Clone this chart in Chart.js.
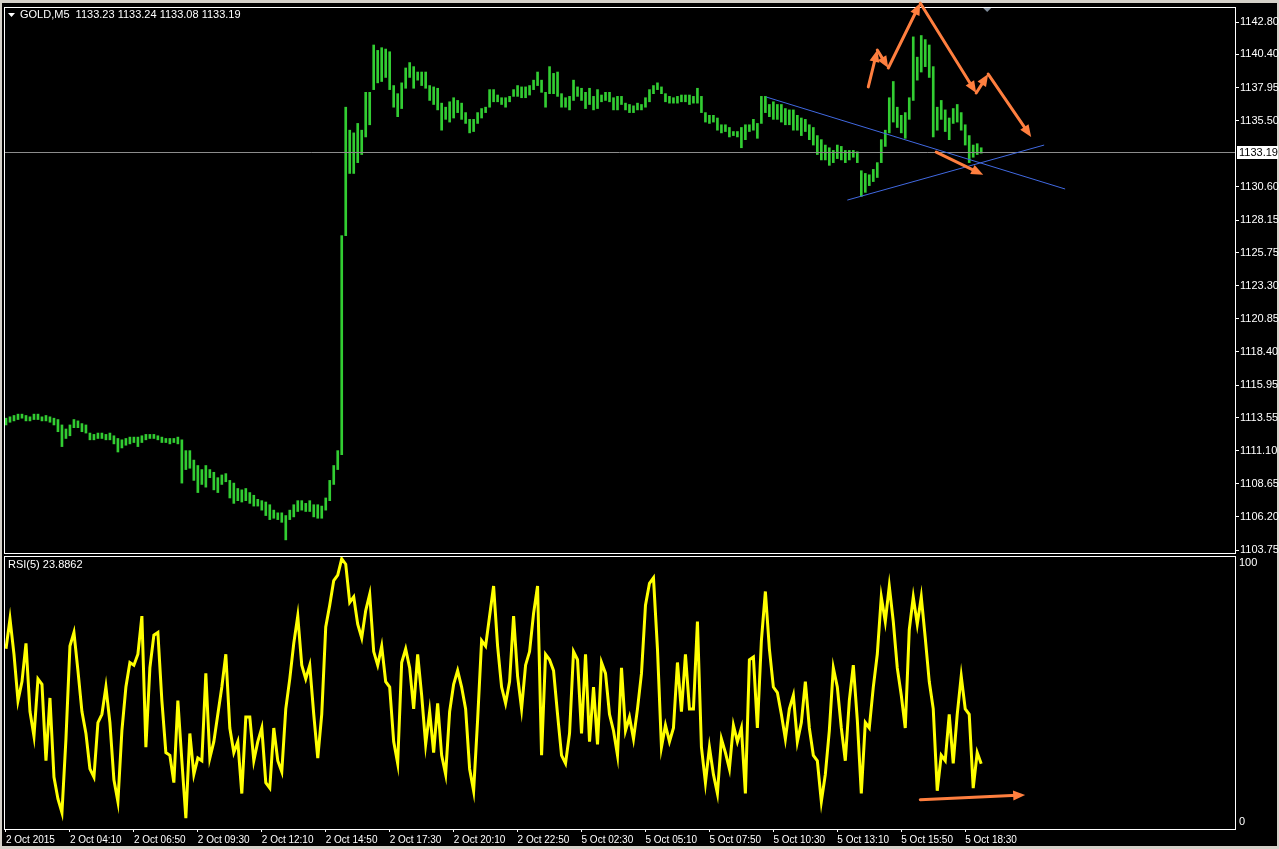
<!DOCTYPE html>
<html>
<head>
<meta charset="utf-8">
<script src="https://cdn.jsdelivr.net/npm/chart.js@4.4.0/dist/chart.umd.min.js"></script>
<style>
  html, body { margin: 0; padding: 0; background: #d4d0c8; overflow: hidden; }
  body { width: 1279px; height: 849px; position: relative; }
  #wrap { position: absolute; left: 2px; top: 3px; width: 1275px; height: 843px; background: #000; }
  canvas { position: absolute; left: 0; }
  #price { top: 0; }
  #rsi { top: 554px; }
</style>
</head>
<body>
<div id="wrap"></div>
<canvas id="price" width="1279" height="555"></canvas>
<canvas id="rsi" width="1279" height="295"></canvas>
<script>
// GOLD M5, two 5-minute bars per slot (high / low)
var highs = [
  1113.5, 1113.6, 1113.7, 1113.8, 1113.8, 1113.7, 1113.6, 1113.8, 1113.8, 1113.6,
  1113.7, 1113.6, 1113.5, 1113.4, 1113.0, 1112.7, 1113.0, 1113.4, 1113.3, 1113.1,
  1113.0, 1112.4, 1112.3, 1112.4, 1112.4, 1112.3, 1112.4, 1112.2, 1112.0, 1111.9,
  1112.0, 1112.1, 1112.1, 1112.1, 1112.2, 1112.3, 1112.3, 1112.3, 1112.2, 1112.1,
  1112.0, 1112.0, 1112.0, 1112.1, 1111.9, 1111.1, 1111.1, 1110.4, 1110.0, 1109.7,
  1110.0, 1109.7, 1109.5, 1109.1, 1109.3, 1109.4, 1108.9, 1108.7, 1108.3, 1108.2,
  1108.3, 1108.0, 1107.8, 1107.5, 1107.4, 1107.3, 1107.1, 1106.7, 1106.5, 1106.5,
  1106.3, 1106.7, 1107.1, 1107.4, 1107.4, 1107.2, 1107.4, 1107.1, 1107.1, 1107.0,
  1107.6, 1108.9, 1110.0, 1111.1, 1127.0, 1136.5, 1134.8, 1134.6, 1135.3, 1134.8,
  1137.6, 1137.6, 1141.1, 1140.7, 1140.9, 1140.8, 1140.6, 1138.1, 1137.5, 1138.3,
  1139.4, 1139.8, 1139.5, 1139.1, 1139.1, 1139.1, 1138.1, 1138.0, 1137.9, 1136.8,
  1136.5, 1136.9, 1137.2, 1137.0, 1136.8, 1136.1, 1135.6, 1135.6, 1136.1, 1136.4,
  1136.5, 1137.8, 1137.8, 1137.4, 1137.2, 1137.2, 1137.3, 1137.8, 1138.1, 1138.0,
  1138.0, 1138.1, 1138.5, 1139.1, 1138.5, 1137.6, 1139.5, 1139.0, 1139.1, 1137.5,
  1137.2, 1137.3, 1138.5, 1138.0, 1137.9, 1137.6, 1137.9, 1137.3, 1137.8, 1137.4,
  1137.6, 1137.6, 1137.2, 1137.3, 1137.3, 1136.8, 1136.7, 1136.6, 1136.8, 1136.7,
  1137.2, 1137.8, 1138.1, 1138.3, 1138.0, 1137.5, 1137.3, 1137.2, 1137.3, 1137.4,
  1137.4, 1137.4, 1137.3, 1137.9, 1137.3, 1136.1, 1135.9, 1135.9, 1135.7, 1135.2,
  1135.2, 1135.0, 1134.7, 1134.7, 1135.0, 1135.2, 1135.2, 1135.6, 1135.3, 1137.3,
  1137.3, 1136.7, 1136.9, 1136.7, 1136.7, 1136.4, 1136.3, 1136.3, 1135.9, 1135.7,
  1135.6, 1135.2, 1135.0, 1134.4, 1134.1, 1133.7, 1133.5, 1133.3, 1133.7, 1133.6,
  1133.3, 1133.3, 1133.3, 1133.2, 1131.8, 1131.6, 1131.5, 1131.9, 1132.4, 1134.1,
  1134.8, 1137.2, 1138.4, 1136.5, 1135.9, 1136.1, 1137.2, 1141.7, 1140.2, 1141.8,
  1141.5, 1141.1, 1139.5, 1136.5, 1137.0, 1136.3, 1135.7, 1136.4, 1136.7, 1136.1,
  1135.2, 1134.4, 1133.7, 1133.8, 1133.5
];
var lows = [
  1113.0, 1113.2, 1113.3, 1113.4, 1113.5, 1113.3, 1113.3, 1113.4, 1113.4, 1113.3,
  1113.3, 1113.2, 1113.0, 1112.5, 1111.4, 1112.0, 1112.2, 1112.8, 1112.8, 1112.5,
  1112.4, 1111.9, 1111.9, 1112.0, 1112.0, 1111.9, 1111.9, 1111.6, 1111.0, 1111.3,
  1111.5, 1111.6, 1111.7, 1111.4, 1111.7, 1111.9, 1112.0, 1112.0, 1111.9, 1111.7,
  1111.7, 1111.6, 1111.7, 1111.6, 1108.7, 1109.7, 1109.8, 1108.9, 1108.0, 1108.6,
  1108.4, 1109.1, 1108.2, 1108.0, 1108.6, 1108.8, 1107.6, 1107.2, 1107.4, 1107.3,
  1107.4, 1107.2, 1107.0, 1107.0, 1106.7, 1106.3, 1106.0, 1106.1, 1106.0, 1105.8,
  1104.5, 1106.0, 1106.2, 1106.6, 1106.7, 1106.6, 1106.6, 1106.2, 1106.1, 1106.1,
  1106.7, 1107.4, 1108.6, 1109.7, 1110.8, 1127.0, 1131.6, 1131.6, 1132.4, 1133.0,
  1134.3, 1135.2, 1137.8, 1138.3, 1138.4, 1138.7, 1137.8, 1136.5, 1135.8, 1136.4,
  1137.9, 1138.7, 1137.9, 1138.5, 1138.1, 1137.9, 1137.0, 1136.7, 1136.3, 1134.8,
  1135.6, 1135.4, 1135.7, 1136.1, 1135.6, 1135.3, 1134.6, 1134.7, 1135.3, 1135.7,
  1136.1, 1136.5, 1136.9, 1136.9, 1136.7, 1136.5, 1136.9, 1137.3, 1137.3, 1137.2,
  1137.2, 1137.4, 1137.8, 1138.1, 1137.6, 1136.5, 1137.5, 1137.5, 1137.3, 1136.5,
  1136.5, 1136.3, 1137.0, 1137.3, 1137.0, 1136.4, 1136.7, 1136.3, 1136.4, 1136.9,
  1137.0, 1136.9, 1136.3, 1136.3, 1136.7, 1136.3, 1136.1, 1136.1, 1136.3, 1136.3,
  1136.5, 1136.9, 1137.5, 1137.8, 1137.5, 1136.9, 1136.8, 1136.8, 1136.8, 1136.9,
  1136.9, 1136.7, 1136.8, 1136.8, 1136.1, 1135.4, 1135.3, 1135.4, 1134.8, 1134.6,
  1134.7, 1134.3, 1134.4, 1134.3, 1133.5, 1134.1, 1134.7, 1134.8, 1134.2, 1135.3,
  1136.1, 1135.8, 1135.6, 1135.6, 1135.4, 1135.2, 1135.2, 1134.8, 1134.8, 1134.4,
  1134.7, 1134.1, 1133.7, 1133.0, 1132.6, 1132.6, 1132.2, 1132.4, 1132.7, 1132.6,
  1132.4, 1132.6, 1132.8, 1132.4, 1129.9, 1130.2, 1130.7, 1131.0, 1131.3, 1132.4,
  1133.6, 1134.6, 1135.4, 1135.0, 1134.6, 1134.2, 1135.6, 1137.0, 1138.5, 1139.1,
  1139.5, 1138.7, 1134.3, 1134.8, 1135.6, 1134.7, 1134.1, 1135.3, 1135.4, 1134.8,
  1133.7, 1132.4, 1132.8, 1133.0, 1133.1
];
// RSI(5), same slots
var rsi = [
  66, 77, 64, 47, 54, 68, 43, 34, 55, 53,
  25, 48, 19, 11, 6, 33, 67, 72, 58, 43,
  35, 22, 19, 39, 42, 52, 39, 18, 10, 36,
  52, 61, 60, 64, 78, 30, 59, 71, 72, 47,
  28, 27, 17, 47, 25, 4, 35, 20, 26, 25,
  57, 26, 32, 42, 52, 64, 37, 28, 32, 13,
  41, 41, 25, 32, 37, 17, 15, 37, 25, 21,
  44, 55, 68, 78, 60, 55, 60, 42, 26, 42,
  74, 82, 91, 93, 99, 97, 83, 85, 75, 70,
  80, 86, 65, 60, 67, 54, 52, 32, 24, 61,
  66, 59, 44, 64, 49, 31, 43, 28, 46, 27,
  20, 43, 53, 58, 52, 44, 22, 14, 40, 69,
  67, 78, 89, 67, 52, 46, 54, 78, 56, 44,
  60, 65, 79, 89, 27, 64, 62, 58, 42, 27,
  24, 35, 65, 62, 35, 64, 32, 52, 31, 61,
  57, 42, 36, 27, 59, 36, 41, 33, 44, 57,
  82, 90, 92, 66, 30, 38, 32, 37, 61, 43,
  64, 44, 44, 76, 30, 17, 30, 20, 13, 33,
  28, 22, 38, 32, 37, 13, 62, 63, 37, 69,
  87, 66, 52, 50, 42, 33, 44, 49, 32, 39,
  54, 37, 27, 25, 10, 20, 36, 59, 52, 37,
  25, 47, 60, 40, 13, 39, 37, 52, 64, 85,
  76, 89, 76, 59, 49, 37, 73, 85, 75, 85,
  70, 54, 44, 14, 27, 25, 42, 24, 42, 56,
  44, 42, 15, 28, 23.9
];
var tickLabels = ['2 Oct 2015', '2 Oct 04:10', '2 Oct 06:50', '2 Oct 09:30', '2 Oct 12:10',
  '2 Oct 14:50', '2 Oct 17:30', '2 Oct 20:10', '2 Oct 22:50', '5 Oct 02:30', '5 Oct 05:10',
  '5 Oct 07:50', '5 Oct 10:30', '5 Oct 13:10', '5 Oct 15:50', '5 Oct 18:30'];
var priceTicks = [1142.80, 1140.40, 1137.95, 1135.50, 1130.60, 1128.15, 1125.75, 1123.30,
  1120.85, 1118.40, 1115.95, 1113.55, 1111.10, 1108.65, 1106.20, 1103.75];
var lastPrice = 1133.19;
var title = 'GOLD,M5  1133.23 1133.24 1133.08 1133.19';
var rsiTitle = 'RSI(5) 23.8862';

// drawn annotations, in [slot, value]
var trendLines = [
  [[190.25, 1137.25], [265, 1130.45]],
  [[210.5, 1129.63], [259.75, 1133.70]]
];
var arrowPath = [[215.75, 1138.0], [218, 1140.73], [220.75, 1139.4], [228.75, 1144.2],
  [242.75, 1137.55], [245.75, 1138.95], [256.5, 1134.3]];
var arrowDown = [[232.75, 1133.18], [244.5, 1131.5]];
var rsiArrow = [[228.75, 10.7], [255, 12.5]];

var FONT = '"Liberation Sans Narrow", "Liberation Sans", sans-serif';
var ORANGE = '#ff7f3f';
var BLUE = '#4169e1';
var BARS = '#32cd32';
var slotCount = 308;
var slots = [];
for (var i = 0; i < slotCount; i++) slots.push(i);

Chart.defaults.font.family = FONT;
Chart.defaults.font.size = 11;

function toPx(chart, d) {
  return [chart.scales.x.getPixelForValue(d[0]), chart.scales.y.getPixelForValue(d[1])];
}

function arrowHead(ctx, x0, y0, x1, y1) {
  var a = Math.atan2(y1 - y0, x1 - x0), L = 12, W = 5;
  ctx.beginPath();
  ctx.moveTo(x1, y1);
  ctx.lineTo(x1 - L * Math.cos(a) + W * Math.sin(a), y1 - L * Math.sin(a) - W * Math.cos(a));
  ctx.lineTo(x1 - L * Math.cos(a) - W * Math.sin(a), y1 - L * Math.sin(a) + W * Math.cos(a));
  ctx.closePath();
  ctx.fill();
}

function drawArrows(chart, pts) {
  var ctx = chart.ctx;
  var p = pts.map(function (d) { return toPx(chart, d); });
  ctx.save();
  ctx.strokeStyle = ORANGE;
  ctx.fillStyle = ORANGE;
  ctx.lineWidth = 3;
  ctx.lineCap = 'round';
  for (var i = 1; i < p.length; i++) {
    var a = Math.atan2(p[i][1] - p[i - 1][1], p[i][0] - p[i - 1][0]);
    ctx.beginPath();
    ctx.moveTo(p[i - 1][0], p[i - 1][1]);
    ctx.lineTo(p[i][0] - 8 * Math.cos(a), p[i][1] - 8 * Math.sin(a));
    ctx.stroke();
    arrowHead(ctx, p[i - 1][0], p[i - 1][1], p[i][0], p[i][1]);
  }
  ctx.restore();
}

function frame(ctx, a) {
  ctx.save();
  ctx.strokeStyle = '#fff';
  ctx.lineWidth = 1;
  ctx.strokeRect(Math.round(a.left) + 0.5, Math.round(a.top) + 0.5,
    Math.round(a.right - a.left), Math.round(a.bottom - a.top));
  ctx.restore();
}

// keep the scales from reserving room for half of the end labels
function noLabelPad(s) {
  s.paddingTop = 0;
  s.paddingBottom = 0;
  s.paddingLeft = 0;
  s.paddingRight = 0;
}

var pricePlugin = {
  id: 'priceExtras',
  afterDatasetsDraw: function (chart) {
    var ctx = chart.ctx, a = chart.chartArea, ys = chart.scales.y;
    var yl = Math.round(ys.getPixelForValue(lastPrice)) + 0.5;
    ctx.save();
    ctx.strokeStyle = '#8c8c8c';
    ctx.lineWidth = 1;
    ctx.beginPath();
    ctx.moveTo(a.left, yl);
    ctx.lineTo(a.right, yl);
    ctx.stroke();

    ctx.strokeStyle = BLUE;
    trendLines.forEach(function (t) {
      var p0 = toPx(chart, t[0]), p1 = toPx(chart, t[1]);
      ctx.beginPath();
      ctx.moveTo(p0[0], p0[1]);
      ctx.lineTo(p1[0], p1[1]);
      ctx.stroke();
    });
    ctx.restore();

    frame(ctx, a);
    drawArrows(chart, arrowPath);
    drawArrows(chart, arrowDown);

    ctx.save();
    // last price tag
    ctx.fillStyle = '#fff';
    ctx.fillRect(a.right + 2, yl - 6.5, 41, 13);
    ctx.fillStyle = '#000';
    ctx.font = '11px ' + FONT;
    ctx.textBaseline = 'middle';
    ctx.fillText(lastPrice.toFixed(2), a.right + 4, yl);

    // title
    ctx.fillStyle = '#fff';
    ctx.beginPath();
    ctx.moveTo(8, 13);
    ctx.lineTo(15, 13);
    ctx.lineTo(11.5, 17);
    ctx.closePath();
    ctx.fill();
    ctx.fillText(title, 20, 15);

    // chart shift marker
    var xm = chart.scales.x.getPixelForValue(245.5);
    ctx.fillStyle = '#7f8c9a';
    ctx.beginPath();
    ctx.moveTo(xm - 4, a.top + 1);
    ctx.lineTo(xm + 4, a.top + 1);
    ctx.lineTo(xm, a.top + 5);
    ctx.closePath();
    ctx.fill();
    ctx.restore();
  }
};

var rsiPlugin = {
  id: 'rsiExtras',
  afterDatasetsDraw: function (chart) {
    var ctx = chart.ctx;
    frame(ctx, chart.chartArea);
    drawArrows(chart, rsiArrow);
    ctx.save();
    ctx.fillStyle = '#fff';
    ctx.font = '11px ' + FONT;
    ctx.textBaseline = 'middle';
    ctx.fillText(rsiTitle, 8, 11);
    ctx.restore();
  }
};

new Chart(document.getElementById('price'), {
  type: 'bar',
  data: {
    labels: slots,
    datasets: [{
      data: highs.map(function (h, i) { return [lows[i], h]; }),
      backgroundColor: BARS,
      borderWidth: 0,
      barThickness: 2
    }]
  },
  options: {
    responsive: false,
    animation: false,
    devicePixelRatio: 1,
    layout: { padding: { left: 4, top: 7, right: 0, bottom: 2 } },
    plugins: { legend: { display: false }, tooltip: { enabled: false } },
    scales: {
      x: { display: false, offset: true },
      y: {
        position: 'right',
        min: 1103.53,
        max: 1143.91,
        afterFit: function (s) { s.width = 44; noLabelPad(s); },
        afterBuildTicks: function (s) {
          s.ticks = priceTicks.map(function (v) { return { value: v }; });
        },
        ticks: {
          color: '#fff',
          padding: 1,
          autoSkip: false,
          callback: function (v) { return v.toFixed(2); }
        },
        grid: { drawOnChartArea: false, color: '#fff', tickLength: 4 },
        border: { display: false }
      }
    }
  },
  plugins: [pricePlugin]
});

new Chart(document.getElementById('rsi'), {
  type: 'line',
  data: {
    labels: slots,
    datasets: [{
      data: rsi,
      borderColor: '#ffff00',
      borderWidth: 3,
      pointRadius: 0,
      tension: 0,
      fill: false
    }]
  },
  options: {
    responsive: false,
    animation: false,
    devicePixelRatio: 1,
    layout: { padding: { left: 4, top: 2, right: 0, bottom: 0 } },
    plugins: { legend: { display: false }, tooltip: { enabled: false } },
    scales: {
      x: {
        offset: true,
        afterFit: function (s) { s.height = 20; noLabelPad(s); },
        afterBuildTicks: function (s) {
          s.ticks = s.ticks.filter(function (t) {
            return t.value % 16 === 0 && t.value / 16 < tickLabels.length;
          });
        },
        ticks: {
          color: '#fff',
          font: { size: 10 },
          align: 'start',
          autoSkip: false,
          maxRotation: 0,
          padding: 2,
          callback: function (v) { return tickLabels[v / 16]; }
        },
        grid: { drawOnChartArea: false, color: '#fff', tickLength: 3, offset: false },
        border: { display: false }
      },
      y: {
        position: 'right',
        min: 0,
        max: 100,
        afterFit: function (s) { s.width = 44; noLabelPad(s); },
        afterBuildTicks: function (s) { s.ticks = [{ value: 97.4 }, { value: 2.6 }]; },
        ticks: {
          color: '#fff',
          padding: 4,
          autoSkip: false,
          callback: function (v) { return v > 50 ? '100' : '0'; }
        },
        grid: { display: false, drawTicks: false },
        border: { display: false }
      }
    }
  },
  plugins: [rsiPlugin]
});
</script>
</body>
</html>
